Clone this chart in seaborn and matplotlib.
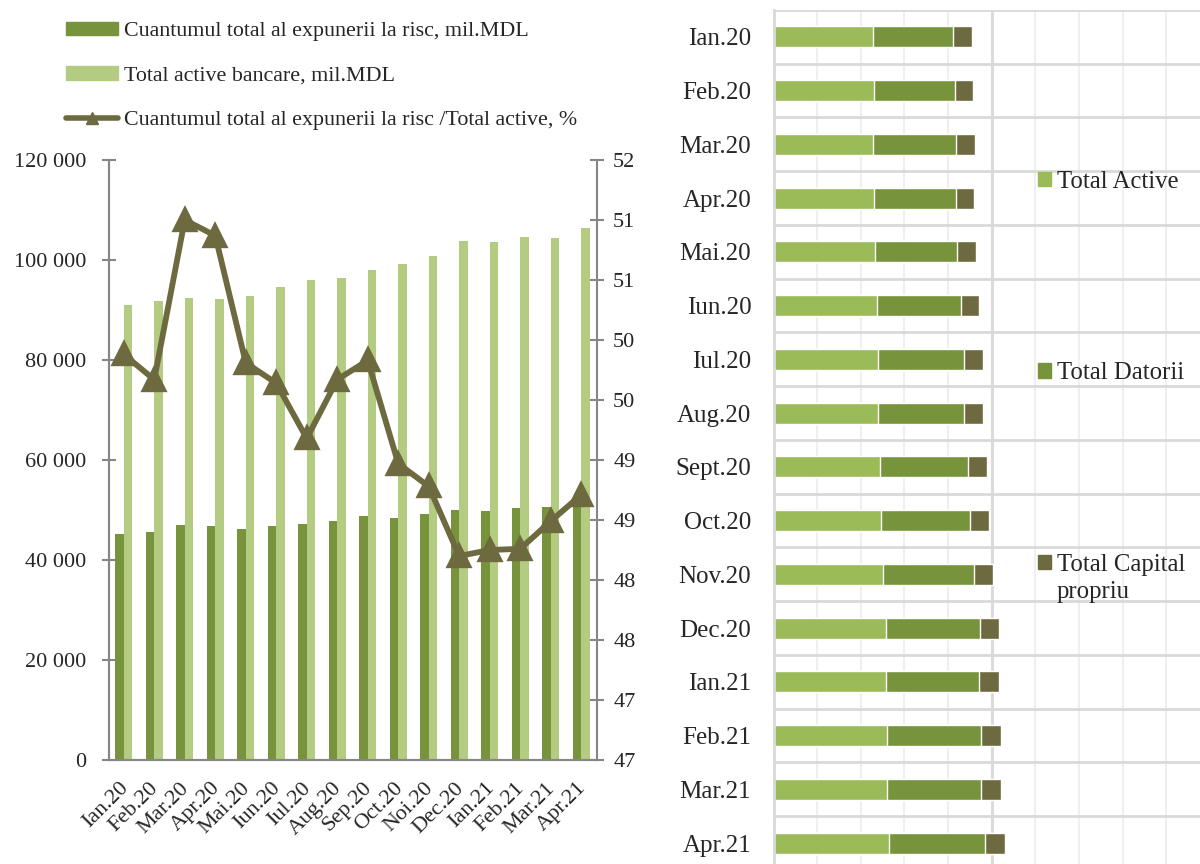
import numpy as np
import pandas as pd
import matplotlib.pyplot as plt
import matplotlib.ticker as mticker
import matplotlib.transforms as mtransforms
from matplotlib.patches import Patch
from matplotlib.lines import Line2D
import seaborn as sns

# Data
luni = ['Ian.20', 'Feb.20', 'Mar.20', 'Apr.20', 'Mai.20', 'Iun.20', 'Iul.20', 'Aug.20',
        'Sep.20', 'Oct.20', 'Noi.20', 'Dec.20', 'Ian.21', 'Feb.21', 'Mar.21', 'Apr.21']
expunere = [45300, 45600, 47100, 46900, 46200, 46900, 47300, 47800,
            48800, 48500, 49200, 50000, 49900, 50500, 50600, 52000]
active_bancare = [91000, 91900, 92400, 92200, 92900, 94600, 96100, 96400,
                  98100, 99200, 100900, 103900, 103600, 104700, 104500, 106500]
raport = [50.38, 50.17, 51.50, 51.37, 50.31, 50.14, 49.68, 50.17,
          50.33, 49.47, 49.28, 48.70, 48.75, 48.76, 48.99, 49.21]

luni_r = ['Ian.20', 'Feb.20', 'Mar.20', 'Apr.20', 'Mai.20', 'Iun.20', 'Iul.20', 'Aug.20',
          'Sept.20', 'Oct.20', 'Nov.20', 'Dec.20', 'Ian.21', 'Feb.21', 'Mar.21', 'Apr.21']
total_active = [91000, 91900, 91600, 91900, 92800, 94600, 95600, 96200,
                97700, 98600, 100100, 103500, 102900, 104400, 103800, 106000]
total_datorii = [73900, 74800, 76000, 75100, 75700, 77300, 79400, 78800,
                 80900, 81500, 83400, 85500, 85800, 86100, 86700, 88200]
capital_propriu = [16800, 16500, 16800, 16800, 16800, 16800, 16800, 17100,
                   16800, 17700, 17700, 18000, 18000, 18300, 18000, 18300]

lbl_exp = 'Cuantumul total al expunerii la risc, mil.MDL'
lbl_act = 'Total active bancare, mil.MDL'
lbl_rap = 'Cuantumul total al expunerii la risc /Total active, %'

c_dark = '#77933c'
c_light = '#b3cc82'
c_act = '#9bbb59'
c_olive = '#6e6a40'
c_axis = '#868686'

sns.set_style('white')
plt.rcParams['font.family'] = ['Liberation Serif', 'DejaVu Serif']

fig = plt.figure(figsize=(12, 8.64), dpi=100)

# ---------------- left chart: bars + ratio line ----------------
ax = fig.add_axes([108.5 / 1200, 1 - 760 / 864, 488 / 1200, 600 / 864])
df = pd.DataFrame({
    'luna': luni * 2,
    'valoare': expunere + active_bancare,
    'serie': [lbl_exp] * len(luni) + [lbl_act] * len(luni),
})
sns.barplot(data=df, x='luna', y='valoare', hue='serie', palette=[c_dark, c_light],
            width=0.57, saturation=1, legend=False, linewidth=0, ax=ax)
ax.set_ylim(0, 120000)
ax.set_yticks(np.arange(0, 120001, 20000))
ax.yaxis.set_major_formatter(mticker.FuncFormatter(lambda v, p: f'{v:,.0f}'.replace(',', ' ')))
ax.set_xlabel('')
ax.set_ylabel('')

ax2 = ax.twinx()
sns.pointplot(x=luni, y=raport, color=c_olive, markers='^', markersize=14.5,
              linewidth=4.2, errorbar=None, ax=ax2)
ax2.set_ylim(47, 52)
ax2.set_yticks(np.arange(47, 52.01, 0.5))
# axis shows whole numbers only (51.5 -> 51, like the original)
ax2.yaxis.set_major_formatter(mticker.FuncFormatter(lambda v, p: f'{int(np.floor(v + 1e-9))}'))
ax2.set_ylabel('')

ax.set_xlim(-0.5, len(luni) - 0.5)
ax.set_xticks(range(len(luni)))
ax.set_xticklabels(luni, rotation=45, ha='right', rotation_mode='anchor', fontsize=16)
ax.set_xticks(np.arange(-0.5, len(luni)), minor=True)
ax.tick_params(axis='x', which='major', length=0, pad=12)
ax.tick_params(axis='x', which='minor', direction='inout', length=10, width=1.5, color=c_axis)
ax.tick_params(axis='y', direction='inout', length=10, width=1.5, color=c_axis,
               labelsize=16, pad=11)
ax2.tick_params(axis='y', direction='inout', length=10, width=1.5, color=c_axis,
                labelsize=16, pad=7)
shift = mtransforms.ScaledTranslation(-5 / 100, -2 / 100, fig.dpi_scale_trans)
for t in ax.get_xticklabels():
    t.set_transform(t.get_transform() + shift)

for a in (ax, ax2):
    a.spines['top'].set_visible(False)
    for s in ('left', 'right', 'bottom'):
        a.spines[s].set_color(c_axis)
        a.spines[s].set_linewidth(1.5)
ax.spines['right'].set_visible(False)

handles = [Patch(color=c_dark), Patch(color=c_light),
           Line2D([], [], color=c_olive, lw=4, marker='^', markersize=9)]
fig.legend(handles, [lbl_exp, lbl_act, lbl_rap], loc='upper left',
           bbox_to_anchor=(66 / 1200, 1 - 22 / 864), frameon=False, fontsize=15.8,
           handlelength=2.38, handleheight=0.55, handletextpad=0.27, labelspacing=1.14,
           borderpad=0, borderaxespad=0)

# ---------------- right chart: stacked horizontal bars ----------------
axr = fig.add_axes([773.5 / 1200, 0.0, 426.5 / 1200, 1 - 10 / 864])
cum2 = np.array(total_active) + np.array(total_datorii)
cum3 = cum2 + np.array(capital_propriu)
sns.barplot(x=cum3, y=luni_r, orient='h', color=c_olive, width=0.39, saturation=1, ax=axr)
sns.barplot(x=cum2, y=luni_r, orient='h', color=c_dark, width=0.39, saturation=1, ax=axr)
sns.barplot(x=total_active, y=luni_r, orient='h', color=c_act, width=0.39, saturation=1, ax=axr)

axr.set_xlim(0, 391000)
axr.set_ylim(15.39, -0.5)
axr.set_xticks(np.arange(0, 391001, 40000))
axr.xaxis.grid(True, color='#efefef', lw=1.5)
axr.yaxis.grid(False)
axr.set_axisbelow(True)
axr.axvline(200000, color='#d9d9d9', lw=2, zorder=0.6)
for b in np.arange(-0.5, len(luni_r)):
    axr.axhline(b, color='#d9d9d9', lw=2, zorder=0.6)
axr.tick_params(axis='x', length=0, labelbottom=False)
axr.tick_params(axis='y', length=0, labelsize=18, pad=16)
for s in ('top', 'right', 'bottom'):
    axr.spines[s].set_visible(False)
axr.spines['left'].set_color('#d9d9d9')
axr.spines['left'].set_linewidth(2)
axr.set_xlabel('')
axr.set_ylabel('')

handles_r = [Patch(color=c_act), Patch(color=c_dark), Patch(color=c_olive)]
fig.legend(handles_r, ['Total Active', 'Total Datorii', 'Total Capital'], loc='upper left',
           bbox_to_anchor=(1038 / 1200, 1 - 171 / 864), frameon=False, fontsize=17.8,
           handlelength=0.52, handleheight=0.52, handletextpad=0.25, labelspacing=6.85,
           borderpad=0, borderaxespad=0)
fig.text(1057 / 1200, 1 - 592 / 864, 'propriu', fontsize=17.8, va='center', ha='left')

fig.savefig('out.png', dpi=100)
